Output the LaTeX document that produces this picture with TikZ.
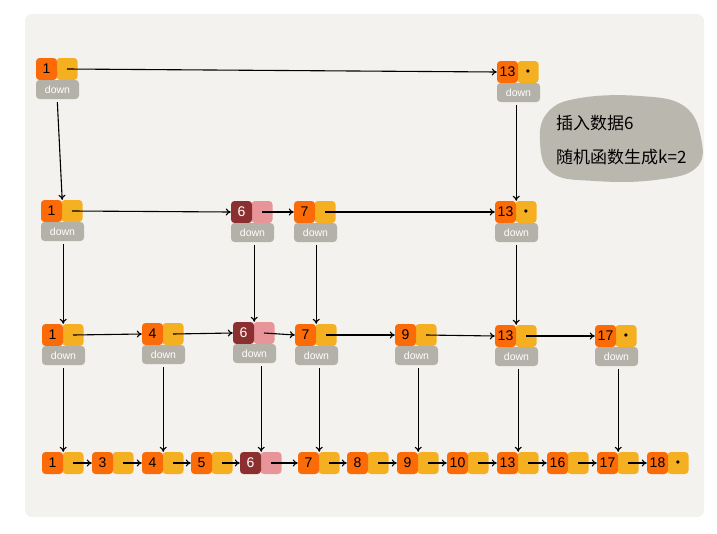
\documentclass[tikz,border=0pt]{standalone}
\usepackage{fontspec}
\newfontfamily\cjk{Noto Sans CJK SC}
\newfontfamily\lbl{Liberation Sans}
\usetikzlibrary{arrows.meta}
\definecolor{bgc}{HTML}{F4F2EE}
\definecolor{keyc}{HTML}{FB6B08}
\definecolor{valc}{HTML}{F5B022}
\definecolor{newkey}{HTML}{8C2F31}
\definecolor{newval}{HTML}{E8959A}
\definecolor{dnc}{HTML}{B4B1A9}
\definecolor{blobc}{HTML}{BAB7AF}
\tikzset{
  keybox/.style={fill=keyc, rounded corners=3.5pt, minimum width=21pt, minimum height=22pt, inner sep=0pt, font=\lbl\fontsize{14}{14}\selectfont, text=black},
  newkeybox/.style={keybox, fill=newkey, text=white},
  valbox/.style={fill=valc, rounded corners=3.5pt, minimum width=21pt, minimum height=22pt, inner sep=0pt, font=\fontsize{8}{8}\selectfont},
  newvalbox/.style={valbox, fill=newval},
  dnbox/.style={fill=dnc, rounded corners=3.5pt, minimum width=43pt, minimum height=19pt, inner sep=0pt, text=white, font=\lbl\fontsize{10.5}{10.5}\selectfont},
  arr/.style={-{To[length=5pt,width=7pt]}, line width=1.1pt, black},
  varr/.style={arr, shorten <=3pt}
}
\newcommand\kv[6]{%
  \node[#6] (#1v) at ({#2+31},#3) {};
  \node[#5] (#1k) at ({#2+10.5},#3) {#4};
}
\newcommand\kvdot[6]{%
  \node[#6] (#1v) at ({#2+31},#3) {$\bullet$};
  \node[#5] (#1k) at ({#2+10.5},#3) {#4};
}
\newcommand\dnb[3]{%
  \node[dnbox] (#1d) at ({#2+21.5},{#3+20.5}) {down};
}
\begin{document}
\begin{tikzpicture}[x=1pt,y=-1pt]
\useasboundingbox (0,0) rectangle (717,533);
\fill[white] (0,0) rectangle (717,533);
\fill[bgc, rounded corners=7pt] (25,14) rectangle (704,517);

% note blob
\fill[blobc] plot[smooth cycle, tension=0.7] coordinates {(548,112) (580,98) (640,96) (684,106) (701,138) (696,168) (655,180) (595,181) (552,173) (540,142)};
\node[font=\cjk\fontsize{17}{17}\selectfont, anchor=west, inner sep=0pt] (t1) at (556,123) {插入数据6};
\node[font=\cjk\fontsize{17}{17}\selectfont, anchor=west, inner sep=0pt] (t2) at (556,157) {随机函数生成k=2};

% level 1
\kv{aA}{36}{69}{1}{keybox}{valbox} \dnb{aA}{36}{69}
\kvdot{aM}{497}{72}{13}{keybox}{valbox} \dnb{aM}{497}{72}

% level 2
\kv{bA}{41}{211}{1}{keybox}{valbox} \dnb{bA}{41}{211}
\kv{bF}{231}{212}{6}{newkeybox}{newvalbox} \dnb{bF}{231}{212}
\kv{bG}{294}{212}{7}{keybox}{valbox} \dnb{bG}{294}{212}
\kvdot{bM}{495}{212}{13}{keybox}{valbox} \dnb{bM}{495}{212}

% level 3
\kv{cA}{42}{335}{1}{keybox}{valbox} \dnb{cA}{42}{335}
\kv{cD}{142}{334}{4}{keybox}{valbox} \dnb{cD}{142}{334}
\kv{cF}{233}{333}{6}{newkeybox}{newvalbox} \dnb{cF}{233}{333}
\kv{cG}{295}{335}{7}{keybox}{valbox} \dnb{cG}{295}{335}
\kv{cI}{395}{335}{9}{keybox}{valbox} \dnb{cI}{395}{335}
\kv{cM}{495}{336}{13}{keybox}{valbox} \dnb{cM}{495}{336}
\kvdot{cQ}{595}{336}{17}{keybox}{valbox} \dnb{cQ}{595}{336}

% level 4
\kv{dA}{42}{463}{1}{keybox}{valbox}
\kv{dC}{92}{463}{3}{keybox}{valbox}
\kv{dD}{142}{463}{4}{keybox}{valbox}
\kv{dE}{191}{463}{5}{keybox}{valbox}
\kv{dF}{240}{463}{6}{newkeybox}{newvalbox}
\kv{dG}{298}{463}{7}{keybox}{valbox}
\kv{dH}{347}{463}{8}{keybox}{valbox}
\kv{dI}{397}{463}{9}{keybox}{valbox}
\kv{dJ}{447}{463}{10}{keybox}{valbox}
\kv{dM}{497}{463}{13}{keybox}{valbox}
\kv{dP}{547}{463}{16}{keybox}{valbox}
\kv{dQ}{597}{463}{17}{keybox}{valbox}
\kvdot{dR}{647}{463}{18}{keybox}{valbox}

% horizontal links
\draw[arr] (aAv.center) -- (aMk.west);
\draw[arr] (bAv.center) -- (bFk.west);
\draw[arr] (bFv.center) -- (bGk.west);
\draw[arr] (bGv.center) -- (bMk.west);
\draw[arr] (cAv.center) -- (cDk.west);
\draw[arr] (cDv.center) -- (cFk.west);
\draw[arr] (cFv.center) -- (cGk.west);
\draw[arr] (cGv.center) -- (cIk.west);
\draw[arr] (cIv.center) -- (cMk.west);
\draw[arr] (cMv.center) -- (cQk.west);
\foreach \a/\b in {dA/dC,dC/dD,dD/dE,dE/dF,dF/dG,dG/dH,dH/dI,dI/dJ,dJ/dM,dM/dP,dP/dQ,dQ/dR}
  \draw[arr] (\a v.center) -- (\b k.west);

% vertical links
\draw[varr] (aAd.south -| aAk.east) -- (bAk.north east);
\draw[varr] (aMd.south -| bMk.east) -- (bMk.north east);
\draw[varr] (bAd.south -| cAk.east) -- (cAk.north east);
\draw[varr] (bFd.south -| cFk.east) -- (cFk.north east);
\draw[varr] (bGd.south -| cGk.east) -- (cGk.north east);
\draw[varr] (bMd.south -| cMk.east) -- (cMk.north east);
\draw[varr] (cAd.south -| dAk.east) -- (dAk.north east);
\draw[varr] (cDd.south -| dDk.east) -- (dDk.north east);
\draw[varr] (cFd.south -| dFk.east) -- (dFk.north east);
\draw[varr] (cGd.south -| dGk.east) -- (dGk.north east);
\draw[varr] (cId.south -| dIk.east) -- (dIk.north east);
\draw[varr] (cMd.south -| dMk.east) -- (dMk.north east);
\draw[varr] (cQd.south -| dQk.east) -- (dQk.north east);
\end{tikzpicture}
\end{document}
